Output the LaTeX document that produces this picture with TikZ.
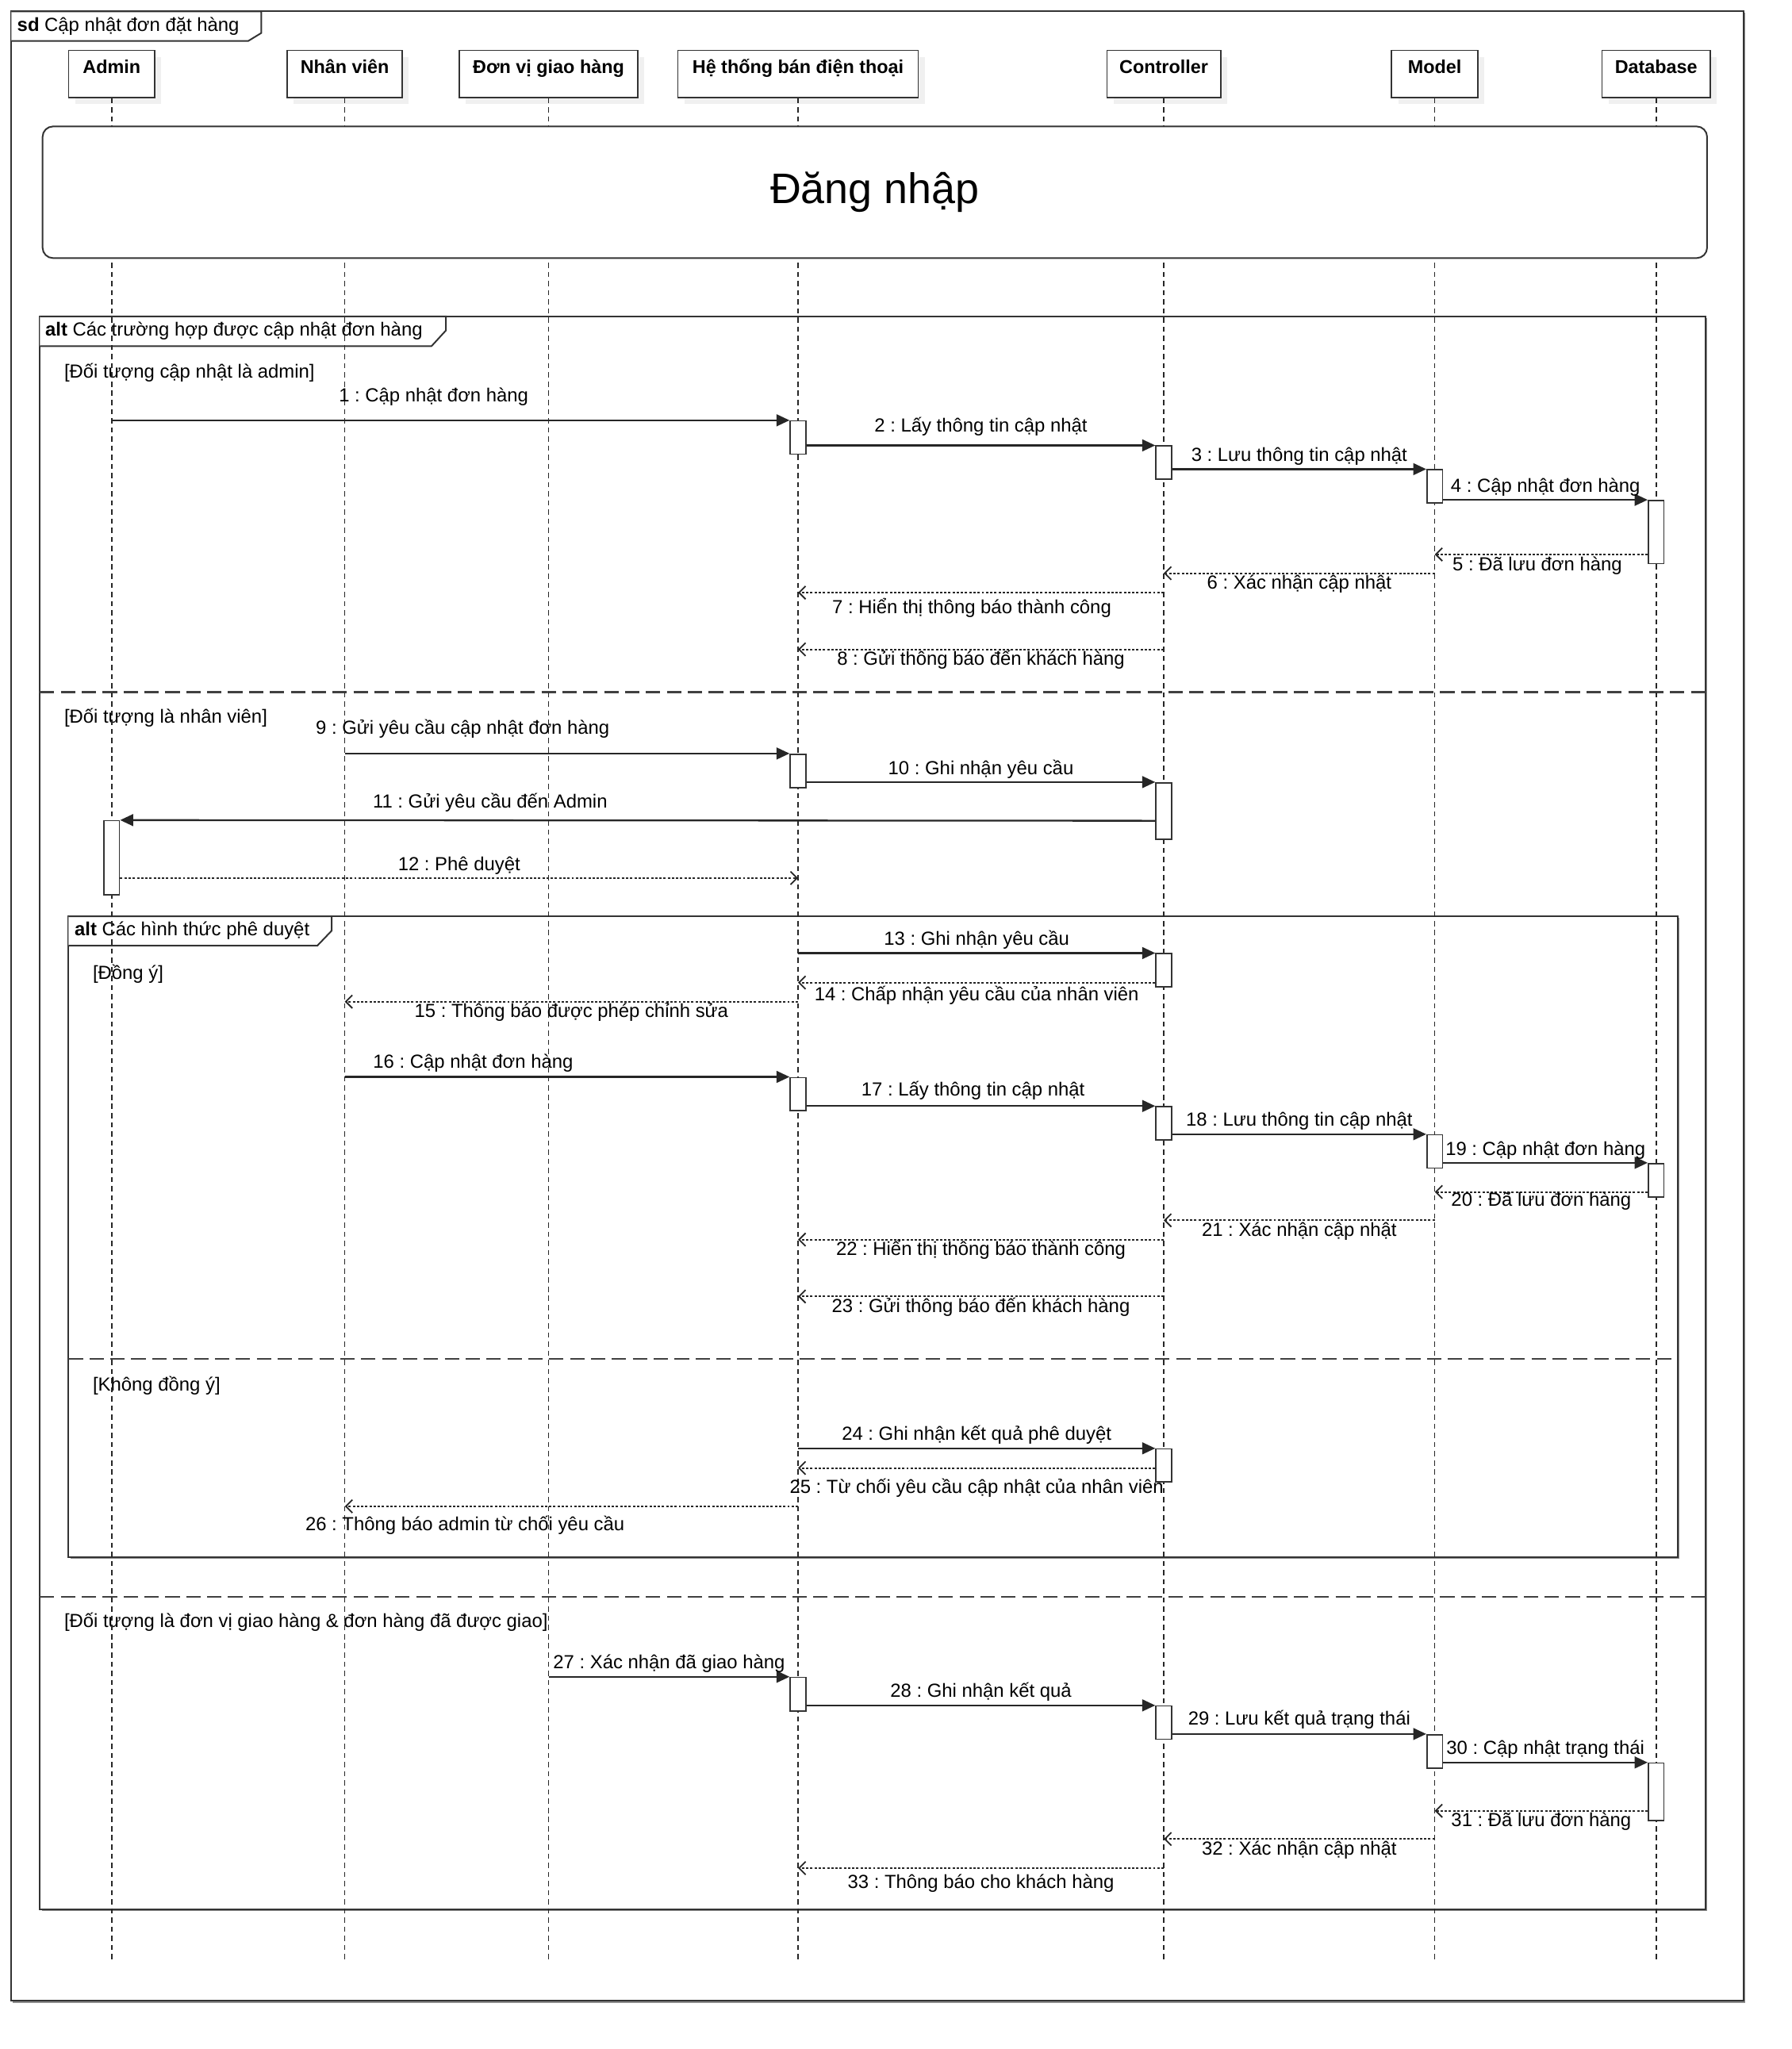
\documentclass[tikz,border=0pt]{standalone}
\usepackage{fontspec}
\setmainfont{Liberation Sans}
\usetikzlibrary{arrows.meta,shadows}
\frenchspacing

\tikzset{
  txt/.style={font=\fontsize{14.5}{17}\selectfont},
  head/.style={draw=black!80, fill=white, line width=1.1pt, anchor=north, inner xsep=0pt, inner ysep=0pt,
    text height=17.7pt, text depth=18.3pt, font=\bfseries\fontsize{14.2}{17}\selectfont,
    drop shadow={shadow xshift=5pt, shadow yshift=-5pt, fill=black!6, opacity=1}},
  life/.style={draw=black!85, line width=0.9pt, dash pattern=on 4pt off 3pt},
  actbox/.style={draw=black!80, fill=white, line width=1pt, minimum width=12pt, inner sep=0pt},
  call/.style={draw=black!85, line width=1.4pt, -{Triangle[length=10pt,width=9pt]}},
  reply/.style={draw=black!85, line width=1.1pt, dash pattern=on 1.8pt off 1.4pt, -{Straight Barb[length=5pt,width=10pt]}},
  up/.style={txt, anchor=base, inner sep=0pt, yshift=6pt},
  down/.style={txt, anchor=base, inner sep=0pt, yshift=-12.3pt},
  frame/.style={draw=black!80, line width=1.2pt},
  shade/.style={drop shadow={shadow xshift=1.3pt, shadow yshift=-1.3pt, fill=black!45, opacity=1}},
  sep/.style={draw=black!75, line width=1.4pt, dash pattern=on 11pt off 5pt},
  guard/.style={txt, anchor=base west, inner sep=0pt},
}

% activation bar: name, lifeline, top, bottom
\newcommand{\actbar}[4]{%
  \pgfmathsetmacro{\barh}{#4-#3}%
  \pgfmathsetmacro{\barm}{(#3+#4)/2}%
  \node[actbox, minimum height=\barh] (#1) at (#2 |- 0,\barm) {};}

\begin{document}
\begin{tikzpicture}[x=1pt, y=-1pt]
\useasboundingbox (0,0) rectangle (1372,1568.8);

% frames
\draw[frame, fill=white, shade] (8.7,8.7) rectangle (1334.8,1532);
\draw[frame, fill=white] (8.7,8.7) -- (200,8.7) -- (200,25.3) -- (190,31.4) -- (8.7,31.4);
\node[guard] (sdlbl) at (13,24) {\textbf{sd} Cập nhật đơn đặt hàng};

\draw[frame, fill=white, shade] (30.6,242.3) rectangle (1306,1461.7);
\draw[frame, fill=white] (30.6,242.3) -- (341.4,242.3) -- (341.4,253) -- (330.4,265) -- (30.6,265);
\node[guard] (alt1) at (34.5,257.5) {\textbf{alt} Các trường hợp được cập nhật đơn hàng};

\draw[frame, fill=white, shade] (52.5,701.5) rectangle (1284.4,1192.4);
\draw[frame, fill=white] (52.5,701.5) -- (253.9,701.5) -- (253.9,712.6) -- (243,724) -- (52.5,724);
\node[guard] (alt2) at (57,716.3) {\textbf{alt} Các hình thức phê duyệt};

\draw[sep] (30.6,530) -- (1306,530);
\draw[sep] (30.6,1222.4) -- (1306,1222.4);
\draw[sep] (52.5,1040.2) -- (1284.4,1040.2);

\node[guard] (g1) at (49,289.7) {[Đối tượng cập nhật là admin]};
\node[guard] (g2) at (49,553.7) {[Đối tượng là nhân viên]};
\node[guard] (g3) at (49,1246) {[Đối tượng là đơn vị giao hàng \& đơn hàng đã được giao]};
\node[guard] (g4) at (70.9,750) {[Đồng ý]};
\node[guard] (g5) at (70.9,1065) {[Không đồng ý]};

% lifelines
\node[head, minimum width=66pt] (admin) at (85.5,38) {Admin};
\node[head, minimum width=88pt] (nv) at (264,38) {Nhân viên};
\node[head, minimum width=136.5pt] (dv) at (420,38) {Đơn vị giao hàng};
\node[head, minimum width=184pt] (ht) at (611,38) {Hệ thống bán điện thoại};
\node[head, minimum width=87pt] (ctl) at (891,38) {Controller};
\node[head, minimum width=66pt] (mdl) at (1098.5,38) {Model};
\node[head, minimum width=83pt] (db) at (1268,38) {Database};
\foreach \p in {admin,nv,dv,ht,ctl,mdl,db}
  \draw[life] (\p.south) -- (\p |- 0,1502);

\node[draw=black!80, fill=white, line width=1.2pt, rounded corners=8pt, anchor=north west,
  minimum width=1274.4pt, minimum height=100.8pt, inner sep=0pt, text height=23.5pt, text depth=6.5pt,
  font=\fontsize{32.7}{36}\selectfont] (login) at (32,96.2) {Đăng nhập};

% admin
\actbar{a1}{ht}{322.3}{347.8}
\actbar{a2}{ctl}{341.5}{367}
\actbar{a3}{mdl}{359.7}{385.2}
\actbar{a4}{db}{383.2}{431.6}
\draw[call] (admin |- a1.north) -- node[up, yshift=8pt, xshift=-13pt] (l1) {1 : Cập nhật đơn hàng} (a1.north west);
\draw[call] (a1.east |- a2.north) -- node[up, yshift=4.5pt] (l2) {2 : Lấy thông tin cập nhật} (a2.north west);
\draw[call] (a2.east |- a3.north) -- node[up] (l3) {3 : Lưu thông tin cập nhật} (a3.north west);
\draw[call] (a3.east |- a4.north) -- node[up] (l4) {4 : Cập nhật đơn hàng} (a4.north west);
\draw[reply] (a4.west |- 0,424.5) -- node[down, xshift=-3pt] (l5) {5 : Đã lưu đơn hàng} (mdl |- 0,424.5);
\draw[reply] (mdl |- 0,438.9) -- node[down] (l6) {6 : Xác nhận cập nhật} (ctl |- 0,438.9);
\draw[reply] (ctl |- 0,453.7) -- node[down, yshift=-3.5pt, xshift=-7pt] (l7) {7 : Hiển thị thông báo thành công} (ht |- 0,453.7);
\draw[reply] (ctl |- 0,497.2) -- node[down] (l8) {8 : Gửi thông báo đến khách hàng} (ht |- 0,497.2);

% nhan vien
\actbar{a5}{ht}{577.4}{602.9}
\actbar{a6}{ctl}{599.3}{642.5}
\actbar{a7}{admin}{628.4}{684.9}
\draw[call] (nv |- a5.north) -- node[up, yshift=8.5pt, xshift=-80pt] (l9) {9 : Gửi yêu cầu cập nhật đơn hàng} (a5.north west);
\draw[call] (a5.east |- a6.north) -- node[up] (l10) {10 : Ghi nhận yêu cầu} (a6.north west);
\draw[call] (a6.west |- 0,628.4) -- node[up, yshift=3.4pt, xshift=-113pt] (l11) {11 : Gửi yêu cầu đến Admin} (a7.north east);
\draw[reply] (a7.east |- 0,672.3) -- node[up] (l12) {12 : Phê duyệt} (ht |- 0,672.3);

% dong y
\actbar{a8}{ctl}{730.2}{755.7}
\draw[call] (ht |- a8.north) -- node[up] (l13) {13 : Ghi nhận yêu cầu} (a8.north west);
\draw[reply] (a8.west |- 0,752.3) -- node[down, yshift=-1.5pt] (l14) {14 : Chấp nhận yêu cầu của nhân viên} (ht |- 0,752.3);
\draw[reply] (ht |- 0,766.9) -- node[down] (l15) {15 : Thông báo được phép chỉnh sửa} (nv |- 0,766.9);
\actbar{a9}{ht}{825}{850.3}
\actbar{a10}{ctl}{847.3}{872.6}
\actbar{a11}{mdl}{868.9}{894.4}
\actbar{a12}{db}{890.8}{916.3}
\draw[call] (nv |- a9.north) -- node[up, yshift=1pt, xshift=-72pt] (l16) {16 : Cập nhật đơn hàng} (a9.north west);
\draw[call] (a9.east |- a10.north) -- node[up, yshift=2pt, xshift=-6pt] (l17) {17 : Lấy thông tin cập nhật} (a10.north west);
\draw[call] (a10.east |- a11.north) -- node[up] (l18) {18 : Lưu thông tin cập nhật} (a11.north west);
\draw[call] (a11.east |- a12.north) -- node[up] (l19) {19 : Cập nhật đơn hàng} (a12.north west);
\draw[reply] (a12.west |- 0,912.6) -- node[down, yshift=1.5pt] (l20) {20 : Đã lưu đơn hàng} (mdl |- 0,912.6);
\draw[reply] (mdl |- 0,934.3) -- node[down] (l21) {21 : Xác nhận cập nhật} (ctl |- 0,934.3);
\draw[reply] (ctl |- 0,949.1) -- node[down] (l22) {22 : Hiển thị thông báo thành công} (ht |- 0,949.1);
\draw[reply] (ctl |- 0,992.6) -- node[down] (l23) {23 : Gửi thông báo đến khách hàng} (ht |- 0,992.6);

% khong dong y
\actbar{a17}{ctl}{1109.4}{1134.7}
\draw[call] (ht |- a17.north) -- node[up] (l24) {24 : Ghi nhận kết quả phê duyệt} (a17.north west);
\draw[reply] (a17.west |- 0,1124) -- node[down, yshift=-7.3pt] (l25) {25 : Từ chối yêu cầu cập nhật của nhân viên} (ht |- 0,1124);
\draw[reply] (ht |- 0,1153.3) -- node[down, yshift=-6.5pt, xshift=-81.5pt] (l26) {26 : Thông báo admin từ chối yêu cầu} (nv |- 0,1153.3);

% don vi giao hang
\actbar{a13}{ht}{1284.3}{1310.2}
\actbar{a14}{ctl}{1306.2}{1331.7}
\actbar{a15}{mdl}{1328.1}{1353.8}
\actbar{a16}{db}{1349.9}{1393.9}
\draw[call] (dv |- a13.north) -- node[up] (l27) {27 : Xác nhận đã giao hàng} (a13.north west);
\draw[call] (a13.east |- a14.north) -- node[up] (l28) {28 : Ghi nhận kết quả} (a14.north west);
\draw[call] (a14.east |- a15.north) -- node[up, yshift=1pt] (l29) {29 : Lưu kết quả trạng thái} (a15.north west);
\draw[call] (a15.east |- a16.north) -- node[up] (l30) {30 : Cập nhật trạng thái} (a16.north west);
\draw[reply] (a16.west |- 0,1386.4) -- node[down] (l31) {31 : Đã lưu đơn hàng} (mdl |- 0,1386.4);
\draw[reply] (mdl |- 0,1408) -- node[down] (l32) {32 : Xác nhận cập nhật} (ctl |- 0,1408);
\draw[reply] (ctl |- 0,1430.3) -- node[down, yshift=-3pt] (l33) {33 : Thông báo cho khách hàng} (ht |- 0,1430.3);
\end{tikzpicture}
\end{document}
